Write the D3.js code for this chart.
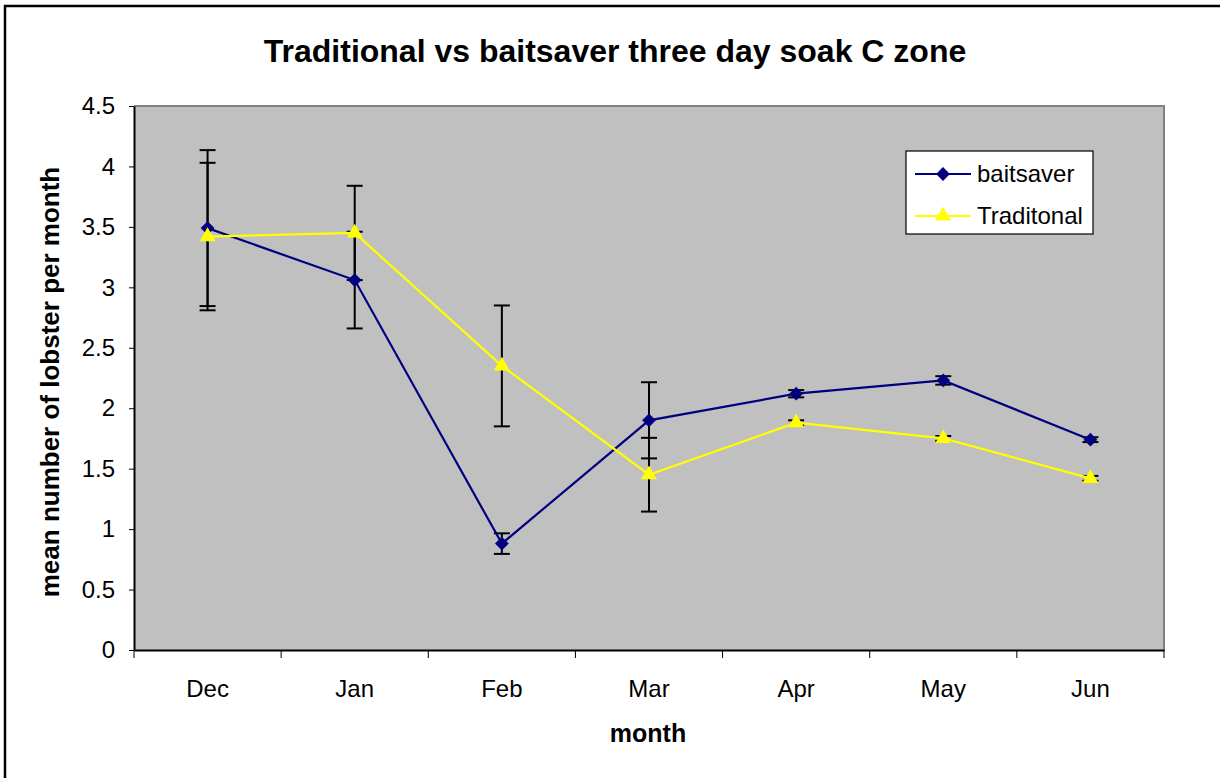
<!DOCTYPE html>
<html lang="en">
<head>
<meta charset="utf-8">
<title>Traditional vs baitsaver</title>
<script src="https://cdn.jsdelivr.net/npm/d3@7"></script>
<style>
    body { margin: 0; background: #fff; }
    svg { display: block; }
    text { font-family: Arial, "Liberation Sans", sans-serif; fill: #000; }
    .axis path, .axis line { stroke: #000; }
    .axis text { font-size: 24px; font-family: Arial, "Liberation Sans", sans-serif; }
</style>
</head>
<body>
<div id="chart"></div>

<script type="text/javascript">

// values
var months = ["Dec", "Jan", "Feb", "Mar", "Apr", "May", "Jun"];
var baitsaver = [3.49, 3.06, 0.88, 1.90, 2.12, 2.23, 1.74];
var baitsaverErr = [0.645, 0.40, 0.085, 0.315, 0.03, 0.035, 0.02];
var traditional = [3.42, 3.45, 2.35, 1.45, 1.88, 1.75, 1.42];
var traditionalErr = [0.61, 0.39, 0.50, 0.305, 0.02, 0.02, 0.02];
var yTicks = [0, 0.5, 1, 1.5, 2, 2.5, 3, 3.5, 4, 4.5];

var width = 1220, height = 778;
var plotLeft = 134, plotRight = 1164, plotTop = 106, plotBottom = 650;

var svg = d3.select("#chart")
    .append("svg")
    .attr("width", width)
    .attr("height", height);

// outer chart frame (runs off the right and bottom)
svg.append("rect")
    .attr("x", 5).attr("y", 6)
    .attr("width", 1240).attr("height", 800)
    .attr("fill", "#fff")
    .attr("stroke", "#000")
    .attr("stroke-width", 2.5);

var x = d3.scaleBand()
    .domain(months)
    .range([plotLeft, plotRight]);

var y = d3.scaleLinear()
    .domain([0, 4.5])
    .range([plotBottom, plotTop]);

// plot area
svg.append("rect")
    .attr("x", plotLeft).attr("y", plotTop)
    .attr("width", plotRight - plotLeft).attr("height", plotBottom - plotTop)
    .attr("fill", "#c0c0c0");

svg.append("path")
    .attr("d", "M" + plotLeft + "," + plotTop + "H" + plotRight + "V" + plotBottom)
    .attr("fill", "none")
    .attr("stroke", "#808080")
    .attr("stroke-width", 2);

// axes
svg.append("g")
    .attr("class", "axis")
    .attr("transform", "translate(" + plotLeft + ",0)")
    .call(d3.axisLeft(y).tickValues(yTicks).tickSize(5).tickPadding(14).tickSizeOuter(0)
        .tickFormat(function(d) { return d; }))
    .call(function(g) {
        g.select(".domain").attr("stroke-width", 2).attr("stroke", "#333");
        g.selectAll("text").attr("fill", "#000");
    });

var xAxis = svg.append("g")
    .attr("class", "axis")
    .attr("transform", "translate(0," + plotBottom + ")")
    .call(d3.axisBottom(x).tickSize(0).tickPadding(30).tickSizeOuter(0))
    .call(function(g) {
        g.select(".domain").attr("stroke-width", 2).attr("stroke", "#333");
        g.selectAll("text").attr("fill", "#000");
    });

// category separators on the x axis
var bounds = months.map(function(m) { return x(m); }).concat([x.range()[1]]);
xAxis.selectAll(".sep")
    .data(bounds)
    .enter().append("line")
    .attr("class", "sep")
    .attr("x1", function(d) { return d; })
    .attr("x2", function(d) { return d; })
    .attr("y1", 0).attr("y2", 8)
    .attr("stroke", "#333");

var cx = function(i) { return x(months[i]) + x.bandwidth() / 2; };

var series = [
    { name: "baitsaver", values: baitsaver, err: baitsaverErr, color: "#000080", symbol: "diamond" },
    { name: "Traditonal", values: traditional, err: traditionalErr, color: "#ffff00", symbol: "triangle" }
];

// error bars
series.forEach(function(s) {
    var g = svg.append("g").attr("stroke", "#000").attr("stroke-width", 2);
    s.values.forEach(function(v, i) {
        var hi = y(v + s.err[i]), lo = y(v - s.err[i]), xc = cx(i);
        g.append("line").attr("x1", xc).attr("x2", xc).attr("y1", hi).attr("y2", lo);
        g.append("line").attr("x1", xc - 8).attr("x2", xc + 8).attr("y1", hi).attr("y2", hi);
        g.append("line").attr("x1", xc - 8).attr("x2", xc + 8).attr("y1", lo).attr("y2", lo);
    });
});

var line = d3.line()
    .x(function(d, i) { return cx(i); })
    .y(function(d) { return y(d); });

var diamond = d3.symbol().type(d3.symbolSquare).size(95);
var triangle = d3.symbol().type(d3.symbolTriangle).size(110);

series.forEach(function(s) {
    svg.append("path")
        .datum(s.values)
        .attr("d", line)
        .attr("fill", "none")
        .attr("stroke", s.color)
        .attr("stroke-width", 2.2);

    svg.selectAll(".m-" + s.symbol)
        .data(s.values)
        .enter().append("path")
        .attr("class", "m-" + s.symbol)
        .attr("d", s.symbol === "diamond" ? diamond() : triangle())
        .attr("transform", function(d, i) {
            return "translate(" + cx(i) + "," + y(d) + ")" + (s.symbol === "diamond" ? " rotate(45)" : "");
        })
        .attr("fill", s.color);
});

// legend
var legend = svg.append("g").attr("transform", "translate(906,151)");
legend.append("rect")
    .attr("width", 187).attr("height", 83)
    .attr("fill", "#fff").attr("stroke", "#000").attr("stroke-width", 1.2);

var entries = legend.selectAll(".entry")
    .data(series)
    .enter().append("g")
    .attr("class", "entry")
    .attr("transform", function(d, i) { return "translate(0," + (23 + i * 42) + ")"; });

entries.append("line")
    .attr("x1", 9).attr("x2", 65)
    .attr("stroke", function(d) { return d.color; })
    .attr("stroke-width", 2.2);

entries.append("path")
    .attr("d", function(d) { return d.symbol === "diamond" ? diamond() : triangle(); })
    .attr("transform", function(d) { return "translate(37,0)" + (d.symbol === "diamond" ? " rotate(45)" : ""); })
    .attr("fill", function(d) { return d.color; });

entries.append("text")
    .attr("x", 71).attr("y", 8)
    .style("font-size", "24px")
    .text(function(d) { return d.name; });

// titles
svg.append("text")
    .attr("x", 615).attr("y", 62)
    .attr("text-anchor", "middle")
    .attr("font-weight", "bold")
    .style("font-size", "32px")
    .text("Traditional vs baitsaver three day soak C zone");

svg.append("text")
    .attr("x", 648).attr("y", 742)
    .attr("text-anchor", "middle")
    .attr("font-weight", "bold")
    .style("font-size", "25px")
    .text("month");

svg.append("text")
    .attr("transform", "translate(59,382) rotate(-90)")
    .attr("text-anchor", "middle")
    .attr("font-weight", "bold")
    .style("font-size", "26px")
    .text("mean number of lobster per month");

</script>
</body>
</html>
